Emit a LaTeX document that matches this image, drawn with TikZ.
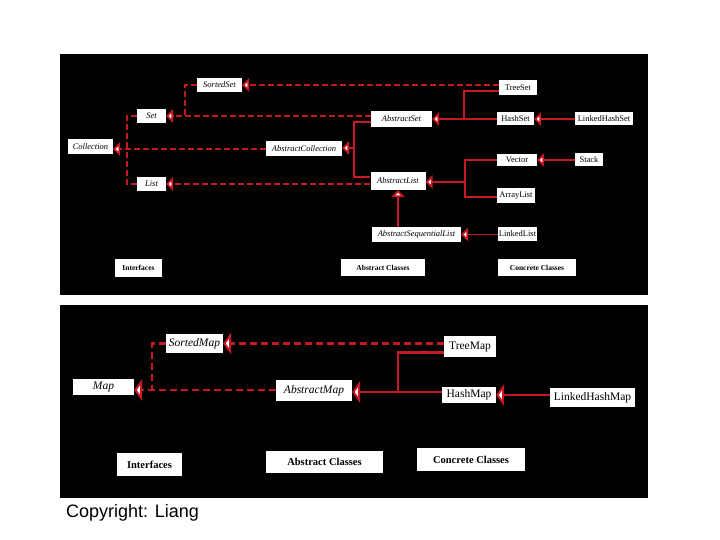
\documentclass[tikz,border=0pt]{standalone}
\usepackage{fontspec}
\setmainfont{Liberation Serif}
\newfontfamily\arialfont{Liberation Sans}
\usetikzlibrary{arrows.meta}
\definecolor{lnred}{RGB}{200,24,36}
\begin{document}
\begin{tikzpicture}[x=1pt,y=-1pt,
  sz/.style 2 args={minimum width=#1pt,minimum height=#2pt},
  cls/.style={fill=white,inner sep=0pt,text=black,font=\fontsize{8.5}{9}\selectfont},
  bcls/.style={fill=white,inner sep=0pt,text=black,font=\fontsize{11.5}{12}\selectfont},
  tlab/.style={fill=white,inner sep=0pt,text=black,font=\bfseries\fontsize{7.5}{8}\selectfont},
  blab/.style={fill=white,inner sep=0pt,text=black,font=\bfseries\fontsize{10.5}{11}\selectfont},
  sl/.style={draw=lnred,line width=1.8pt},
  dl/.style={draw=lnred,line width=1.8pt,dash pattern=on 6pt off 3pt},
  tipT/.style={-{Triangle[length=7pt,width=14pt,fill=white]}},
  bsl/.style={draw=lnred,line width=2.4pt},
  bdl/.style={draw=lnred,line width=2.4pt,dash pattern=on 7pt off 4pt},
  tipB/.style={-{Triangle[length=8pt,width=22pt,fill=white]}}
]
\useasboundingbox (0,0) rectangle (720,540);
\fill[white] (0,0) rectangle (720,540);
\fill[black] (60,54) rectangle (648,295);
\fill[black] (60,305) rectangle (648,498);

% ---------- top panel nodes ----------
\node[cls,sz={45}{14}] (SortedSet) at (219.5,85) {\itshape SortedSet};
\node[cls,sz={29}{14}] (Set) at (151.5,116) {\itshape Set};
\node[cls,sz={45}{15}] (Collection) at (90.5,146.5) {\itshape Collection};
\node[cls,sz={76}{15}] (AbstractCollection) at (304,149) {\itshape AbstractCollection};
\node[cls,sz={29}{14}] (List) at (151.5,184) {\itshape List};
\node[cls,sz={61}{16}] (AbstractSet) at (401.5,119) {\itshape AbstractSet};
\node[cls,sz={55}{18}] (AbstractList) at (398,181) {\itshape AbstractList};
\node[cls,sz={89}{15}] (ASL) at (416.5,234.5) {\itshape AbstractSequentialList};
\node[cls,sz={38}{15}] (TreeSet) at (518,87.5) {TreeSet};
\node[cls,sz={37}{13}] (HashSet) at (515.5,119) {HashSet};
\node[cls,sz={58}{13}] (LinkedHashSet) at (604,119) {LinkedHashSet};
\node[cls,sz={40}{12}] (Vector) at (517,160) {Vector};
\node[cls,sz={28}{13}] (Stack) at (589,160) {Stack};
\node[cls,sz={38}{15}] (ArrayList) at (516,195.5) {ArrayList};
\node[cls,sz={39}{14}] (LinkedList) at (517.5,234) {LinkedList};
\node[tlab,sz={47}{18}] (TInterfaces) at (138.5,268) {Interfaces};
\node[tlab,sz={84}{17}] (TAbstract) at (383,267.5) {Abstract Classes};
\node[tlab,sz={78}{17}] (TConcrete) at (537,267.5) {Concrete Classes};

% ---------- top panel connectors ----------
\coordinate (jc) at (127,149);
\coordinate (js) at (185,116);
\coordinate (jac) at (354,148);
\coordinate (jts) at (464,119);
\coordinate (jl) at (465,182);

\draw[dl,tipT] (TreeSet.west |- SortedSet.east) -- (SortedSet.east);
\draw[dl,tipT] (AbstractSet.west |- Set.east) -- (Set.east);
\draw[dl,tipT] (AbstractList.west |- List.east) -- (List.east);
\draw[dl,tipT] (AbstractCollection.west) -- (Collection.east |- AbstractCollection.west);
\draw[dl] (Set.west) -| (jc);
\draw[dl] (List.west) -| (jc);
\draw[dl] (SortedSet.west) -| (js);

\draw[sl] ([yshift=-3pt]AbstractSet.west) -| (jac) |- ([yshift=4pt]AbstractList.west);
\draw[sl,tipT] (jac) -- (AbstractCollection.east |- jac);
\draw[sl,tipT] (HashSet.west) -- (AbstractSet.east |- HashSet.west);
\draw[sl] ([yshift=-3.5pt]TreeSet.west) -| (jts);
\draw[sl,tipT] (LinkedHashSet.west) -- (HashSet.east);
\draw[sl] (Vector.west) -| (jl) |- ([yshift=-1.5pt]ArrayList.west);
\draw[sl,tipT] (jl) -- (AbstractList.east |- jl);
\draw[sl,tipT] (Stack.west) -- (Vector.east |- Stack.west);
\draw[sl,tipT] (LinkedList.west |- ASL.east) -- (ASL.east);
\draw[sl,tipT] (AbstractList.south |- ASL.north) -- (AbstractList.south);

% ---------- bottom panel nodes ----------
\node[bcls,sz={57}{19}] (SortedMap) at (194.5,343.5) {\itshape SortedMap};
\node[bcls,sz={61}{16}] (Map) at (103.5,387) {\itshape Map};
\node[bcls,sz={76}{21}] (AbstractMap) at (314,390.5) {\itshape AbstractMap};
\node[bcls,sz={52}{21}] (TreeMap) at (470,346.5) {TreeMap};
\node[bcls,sz={54}{16}] (HashMap) at (469,395) {HashMap};
\node[bcls,sz={85}{19}] (LinkedHashMap) at (592.5,397.5) {LinkedHashMap};
\node[blab,sz={65}{23}] (BInterfaces) at (149.5,464.5) {Interfaces};
\node[blab,sz={117}{22}] (BAbstract) at (324.5,462) {Abstract Classes};
\node[blab,sz={108}{23}] (BConcrete) at (471,459.5) {Concrete Classes};

% ---------- bottom panel connectors ----------
\coordinate (jm) at (152,390);
\coordinate (jam) at (398,392);
\draw[bdl,tipB] (TreeMap.west |- SortedMap.east) -- (SortedMap.east);
\draw[bdl,tipB] (AbstractMap.west |- jm) -- (Map.east |- jm);
\draw[bdl] (SortedMap.west) -| (jm);
\draw[bsl,tipB] (HashMap.west |- jam) -- (AbstractMap.east |- jam);
\draw[bsl] ([yshift=-6pt]TreeMap.west) -| (jam);
\draw[bsl,tipB] (LinkedHashMap.west |- HashMap.east) -- (HashMap.east);

% ---------- caption ----------
\node[anchor=west,inner sep=0pt,font=\arialfont\fontsize{18}{20}\selectfont] (copy) at (66,513) {Copyright: Liang};
\end{tikzpicture}
\end{document}
